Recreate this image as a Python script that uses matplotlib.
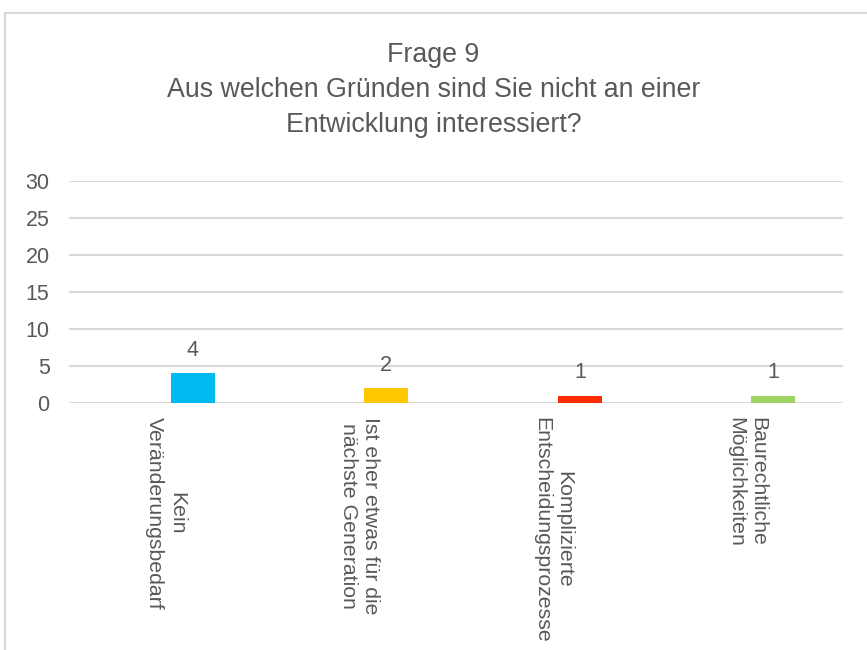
import matplotlib
matplotlib.use("Agg")
import matplotlib.pyplot as plt
from matplotlib.lines import Line2D
import numpy as np

categories = ["Kein\nVeränderungsbedarf",
              "Ist eher etwas für die\nnächste Generation",
              "Komplizierte\nEntscheidungsprozesse",
              "Baurechtliche\nMöglichkeiten"]
values = [4, 2, 1, 1]
colors = ["#00B9F1", "#FFC700", "#FF2A00", "#9ED462"]
yticks = [0, 5, 10, 15, 20, 25, 30]
title = "Frage 9\nAus welchen Gründen sind Sie nicht an einer\nEntwicklung interessiert?"

plt.rcParams['font.family'] = ['Liberation Sans', 'DejaVu Sans']
text_color = "#595959"
grid_color = "#D9D9D9"

W, H = 867, 650
fig = plt.figure(figsize=(W / 100, H / 100), dpi=100)

# axes placement in pixels
left, right, top, bottom = 69, 843, 181, 403
ax = fig.add_axes([left / W, 1 - bottom / H, (right - left) / W, (bottom - top) / H])

x = np.arange(len(categories))
offset = 0.14
width = 0.227
bars = ax.bar(x + offset, values, width=width, color=colors, zorder=3)
for xi, v in zip(x, values):
    ax.annotate(str(v), (xi + offset, v), xytext=(0, 9), textcoords="offset points",
                ha="center", va="bottom", fontsize=15.5, color=text_color)

ax.set_xlim(-0.5, len(categories) - 0.5)
ax.set_ylim(0, 30)
ax.set_yticks(yticks)
ax.set_yticklabels([str(t) for t in yticks], fontsize=15.5, color=text_color)
ax.tick_params(axis="y", length=0, pad=14)
ax.set_xticks(x)
ax.set_xticklabels(categories, rotation=-90, fontsize=15.3, color=text_color,
                   ha="center", va="top", multialignment="center", linespacing=1.2)
ax.tick_params(axis="x", length=0, pad=10)
ax.grid(axis="y", color=grid_color, linewidth=1.5, zorder=0)
ax.set_axisbelow(True)
for s in ax.spines.values():
    s.set_visible(False)

fig.text(0.5, 1 - 90 / H, title, ha="center", va="center", fontsize=19.3,
         color=text_color, linespacing=1.45)

# outer chart border
fig.add_artist(Line2D([5 / W, 1], [1 - 13 / H, 1 - 13 / H], color="#D9D9D9", linewidth=1.5))
fig.add_artist(Line2D([5 / W, 5 / W], [0, 1 - 13 / H], color="#D9D9D9", linewidth=1.5))

fig.savefig("out.png", dpi=100)
